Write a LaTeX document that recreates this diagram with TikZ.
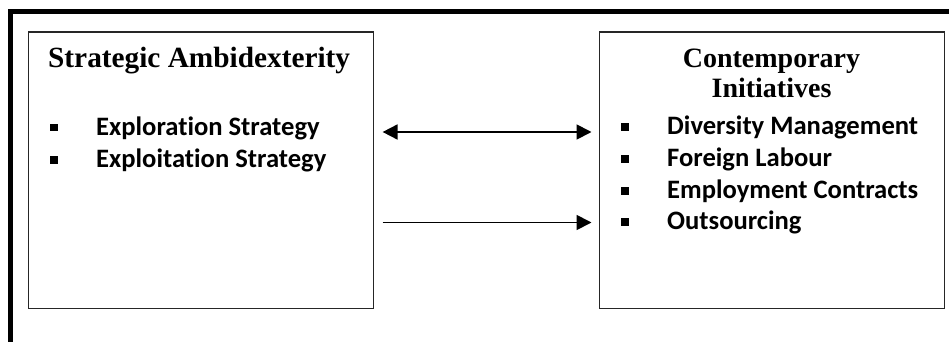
\documentclass[tikz,border=0pt]{standalone}
\usepackage{fontspec}
\setmainfont{Liberation Serif}
\newfontfamily\calfont[Ligatures={NoCommon}]{Carlito}
\usetikzlibrary{arrows.meta}
\tikzset{
  box/.style={draw=black!85, line width=1.1pt, minimum width=345pt, minimum height=276pt, anchor=north west, inner sep=0pt},
  ttl/.style={font=\fontsize{28}{30}\selectfont\bfseries, inner sep=0pt},
  item/.style={font=\calfont\fontsize{26.6}{30}\selectfont\bfseries, anchor=base west, inner sep=0pt},
  arr/.style={line width=1.8pt, -{Triangle[length=15pt,width=15pt]}, shorten <=9pt, shorten >=7pt},
  darr/.style={line width=1.8pt, {Triangle[length=15pt,width=15pt]}-{Triangle[length=15pt,width=15pt]}, shorten <=9pt, shorten >=7pt},
  frame/.style={line width=5pt, line join=miter}
}
\newcommand{\blt}{\makebox[46pt][l]{\rule[3.5pt]{7.5pt}{7.5pt}}}
\begin{document}
\begin{tikzpicture}[x=1pt,y=-1pt]
\useasboundingbox (0,0) rectangle (949,342);
\coordinate (f1) at (10.5,345);
\coordinate (f2) at (10.5,11.5);
\coordinate (f3) at (952,11.5);
\draw[frame] (f1) -- (f2) -- (f3);
\node[box] (L) at (27.5,31.5) {};
\node[box] (R) at (598.5,31.5) {};
\node[ttl, font=\fontsize{29.3}{30}\selectfont\bfseries, anchor=base west] (lt) at (48,68) {Strategic Ambidexterity};
\node[item] (l1) at (50,135) {\blt Exploration Strategy};
\node[item] (l2) at (50,167) {\blt Exploitation Strategy};
\node[ttl, anchor=base] (rt1) at (771.5,68) {Contemporary};
\node[ttl, anchor=base] (rt2) at (771.5,98) {Initiatives};
\node[item] (r1) at (621,134) {\blt Diversity Management};
\node[item] (r2) at (621,166) {\blt Foreign Labour};
\node[item] (r3) at (621,198) {\blt Employment Contracts};
\node[item] (r4) at (621,229) {\blt Outsourcing};
\draw[darr] ([yshift=-100.5pt]L.north east) -- ([yshift=-100.5pt]R.north west);
\draw[arr] ([yshift=-191pt]L.north east) -- ([yshift=-191pt]R.north west);
\end{tikzpicture}
\end{document}
